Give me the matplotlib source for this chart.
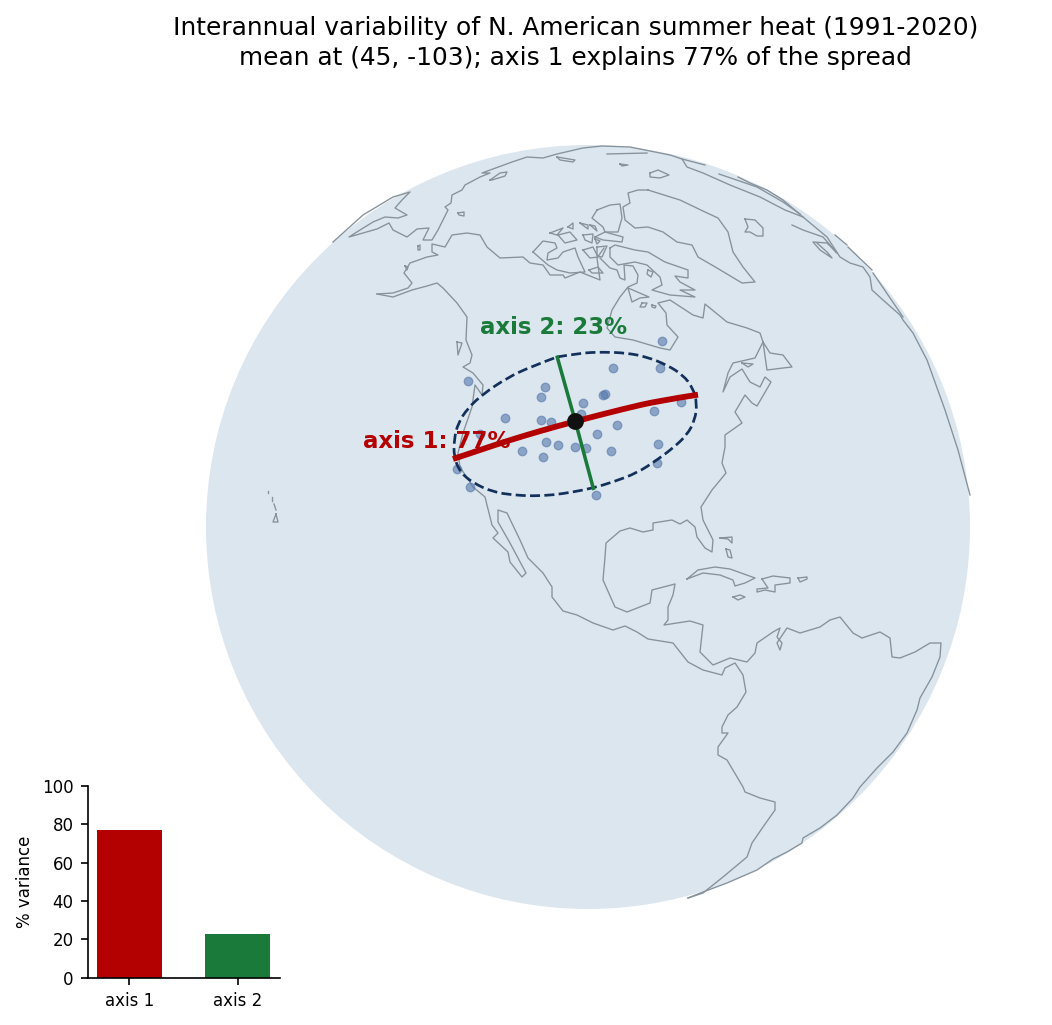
import matplotlib
matplotlib.use("Agg")
import matplotlib.pyplot as plt
from matplotlib.patches import Circle, PathPatch
from matplotlib.path import Path

# everything on the globe is in map-plane units
GLOBE_CENTER = (588, 527)
GLOBE_RADIUS = 382

var_labels = ["axis 1", "axis 2"]
var_values = [77, 23]

year_x = [661.7, 613.3, 660.3, 468.3, 545.3, 541.3, 583.3, 605.3, 603.3, 680.7,
          654.3, 581.3, 505.3, 541.3, 551.3, 617.3, 480.0, 597.3, 546.3, 558.3,
          575.3, 586.3, 522.3, 611.3, 658.3, 543.3, 657.3, 457.3, 470.3, 596.3]
year_y = [341.3, 368.3, 368.3, 381.3, 387.3, 397.3, 403.3, 394.3, 395.3, 401.7,
          411.3, 414.0, 418.3, 420.3, 422.3, 425.3, 433.7, 434.3, 442.3, 445.3,
          447.3, 448.3, 451.3, 451.3, 444.3, 457.3, 463.3, 469.3, 487.3, 495.3]

mean_point = (575.3, 421.3)
axis1_line = [(453, 459), (480, 450), (507, 441), (540, 431), (575.3, 421.3), (623, 409), (660, 400.5), (698, 394.7)]
axis2_line = [(557.3, 357.3), (575.3, 421.3), (593.3, 488.3)]
ellipse_line = [(557, 357), (580, 353), (603, 352), (627, 353), (647, 357), (667, 365), (683, 375),
                (693, 388), (697, 403), (695, 420), (687, 435), (673, 448), (657, 460), (637, 473),
                (613, 482), (593, 488), (573, 492), (553, 495), (533, 496), (513, 495), (493, 492),
                (473, 483), (460, 472), (454, 457), (454, 440), (458, 423), (468, 408), (483, 394),
                (507, 378), (530, 367), (557, 357)]

siberia = [(333, 242), (363, 215), (393, 197), (410, 192), (402, 200), (395, 208), (407, 215), (398, 218),
           (385, 217), (373, 222), (360, 230), (349, 237), (363, 233), (377, 229), (389, 223), (393, 230),
           (407, 237), (417, 229), (429, 228), (423, 240), (432, 240), (438, 230), (448, 210), (445, 207),
           (451, 203), (452, 195), (462, 190), (465, 185), (480, 177), (490, 173), (482, 173), (512, 162),
           (527, 157), (543, 158), (557, 154), (583, 148), (602, 146), (630, 147), (650, 151), (670, 155),
           (682, 159), (705, 165)]
eurasia = [(682, 159), (687, 167), (703, 173), (730, 185), (760, 197), (785, 210), (803, 217)]
novaya = [(719, 174), (757, 187), (783, 202), (800, 214)]
arctic_east = [(738, 177), (750, 183), (767, 190), (783, 200), (803, 217), (827, 237), (840, 257), (850, 263),
               (863, 267), (870, 277), (872, 290), (883, 300), (900, 315), (903, 320), (913, 333), (927, 360),
               (945, 410), (958, 450), (970, 495)]
baltic = [(792, 225), (803, 230), (823, 237), (837, 253), (827, 243), (813, 242), (820, 250), (832, 258),
          (827, 252), (817, 243)]
limb_a = [(835, 235), (847, 245)]
limb_b = [(848, 247), (872, 270)]
limb_c = [(873, 273), (903, 317)]

greenland = [(648, 190), (680, 200), (705, 212), (718, 218), (728, 232), (733, 252), (743, 267), (755, 282),
             (742, 283), (717, 268), (698, 257), (692, 245), (677, 242), (663, 232), (648, 227), (635, 228),
             (625, 220), (623, 207), (630, 203), (628, 193), (638, 190), (648, 190)]
iceland = [(745, 219), (755, 220), (763, 228), (763, 236), (757, 236), (750, 232), (745, 232), (748, 227), (745, 219)]

# north america, alaska peninsula round to the andes
alaska_west = [(377, 294), (393, 293), (408, 288), (412, 283), (404, 273), (410, 263), (427, 257), (438, 255),
               (432, 252), (432, 244), (445, 247), (452, 235), (467, 233), (480, 235), (487, 247), (500, 258),
               (523, 257), (530, 263), (543, 265), (550, 275), (563, 275), (565, 278), (580, 272), (600, 280),
               (597, 258), (604, 248)]
hudson = [(600, 258), (610, 268), (617, 270), (620, 278), (625, 280), (624, 265), (633, 266), (638, 275),
          (637, 283), (628, 287), (620, 297), (612, 310), (607, 328), (615, 337), (633, 340), (660, 348),
          (670, 350), (678, 337), (667, 325), (666, 313), (658, 303), (670, 300), (693, 315), (703, 318),
          (705, 304), (727, 322), (747, 328), (760, 333), (763, 342), (755, 358), (733, 363), (728, 373),
          (723, 392), (730, 377), (742, 369), (750, 382), (760, 387), (765, 377), (771, 382), (757, 406),
          (752, 403), (745, 395), (735, 412), (742, 423), (725, 435), (725, 447), (722, 463), (726, 473),
          (712, 490), (701, 507), (703, 520), (713, 540), (712, 552), (705, 548), (697, 537), (695, 527),
          (687, 520), (680, 524), (672, 520), (653, 523), (653, 530), (643, 532), (630, 528), (620, 531),
          (606, 543), (605, 557), (603, 580), (615, 607), (627, 612), (650, 603), (652, 590), (675, 584),
          (673, 595), (668, 607), (668, 620), (664, 625), (690, 621), (703, 625), (700, 652), (713, 665),
          (730, 658), (747, 662), (755, 653), (757, 643), (773, 632), (780, 628), (777, 637), (782, 643),
          (780, 650), (777, 643), (787, 628), (800, 633), (820, 627), (830, 620), (840, 617), (853, 633),
          (862, 638), (880, 632), (890, 638), (892, 657), (900, 658), (915, 652), (930, 643), (941, 643),
          (940, 657), (932, 677), (920, 698), (917, 710), (907, 733), (893, 752), (877, 768), (860, 787),
          (853, 798), (837, 815), (820, 828), (803, 838), (802, 843), (787, 852), (773, 859), (757, 870),
          (727, 883), (703, 892), (688, 898)]
andes = [(688, 898), (703, 893), (723, 877), (747, 857), (752, 843), (763, 827), (775, 810), (775, 802),
         (760, 798), (745, 792), (743, 787), (727, 760), (718, 755), (718, 747), (728, 733), (722, 733),
         (722, 727), (728, 715), (737, 707), (746, 692), (743, 675), (735, 663), (725, 668), (722, 675),
         (703, 670), (688, 662), (673, 643), (648, 639), (637, 632), (625, 626), (613, 630), (593, 623),
         (577, 615), (563, 611), (552, 597), (552, 587), (543, 573), (528, 558), (520, 540), (507, 513),
         (498, 510), (498, 522), (510, 543), (526, 573), (522, 577), (510, 562), (508, 552), (493, 538),
         (498, 533), (492, 525), (485, 497), (473, 487), (460, 467), (458, 453), (463, 433), (472, 407),
         (475, 385), (482, 395), (483, 385), (473, 373), (463, 367), (470, 363), (472, 355), (466, 340),
         (467, 317), (457, 303), (443, 288), (437, 283), (427, 286), (412, 290), (393, 297), (377, 294)]

newfoundland = [(763, 342), (767, 370), (783, 368), (792, 367), (783, 355), (770, 353), (763, 342)]
anticosti = [(742, 363), (753, 364), (748, 367), (742, 363)]
haida = [(457, 342), (462, 343), (458, 355), (457, 342)]
baffin = [(610, 248), (615, 245), (635, 250), (648, 252), (665, 262), (688, 270), (688, 278), (675, 276),
          (680, 282), (695, 290), (680, 290), (695, 297), (670, 295), (652, 290), (662, 285), (660, 277),
          (647, 265), (635, 262), (618, 265), (610, 257), (610, 248)]
southampton = [(628, 288), (649, 297), (640, 298), (632, 302), (628, 288)]
victoria = [(533, 252), (543, 241), (555, 243), (557, 248), (548, 253), (547, 260), (558, 258), (563, 252),
            (575, 248), (578, 257), (585, 272), (570, 273), (557, 270), (548, 265), (533, 252)]
ellesmere = [(597, 210), (610, 205), (620, 204), (622, 218), (618, 232), (605, 232), (603, 227), (592, 218), (597, 210)]
devon = [(595, 237), (605, 232), (623, 237), (622, 242), (603, 240), (595, 237)]
arctic_small = [
    [(583, 250), (593, 247), (598, 257), (590, 258), (583, 250)],
    [(597, 247), (607, 246), (602, 257), (597, 256), (597, 247)],
    [(589, 270), (598, 267), (603, 273), (592, 273), (589, 270)],
    [(550, 233), (563, 228), (557, 235), (550, 233)],
    [(558, 235), (570, 232), (577, 240), (565, 243), (558, 235)],
    [(568, 227), (573, 223), (573, 229), (568, 227)],
    [(580, 223), (588, 225), (588, 229), (580, 223)],
    [(583, 235), (593, 234), (592, 243), (585, 240), (583, 235)],
    [(595, 239), (600, 241), (597, 244), (595, 239)],
    [(590, 225), (595, 226), (597, 231), (590, 225)],
    [(642, 303), (647, 303), (645, 307), (640, 307), (642, 303)],
    [(652, 305), (656, 306), (655, 308), (652, 307), (652, 305)],
    [(648, 270), (653, 272), (651, 277), (647, 274), (648, 270)],
    [(650, 173), (658, 170), (669, 175), (660, 178), (650, 177), (650, 173)],
    [(620, 164), (628, 165), (622, 166), (620, 164)],
    [(607, 154), (647, 153)],
    [(557, 157), (575, 160), (573, 162), (560, 160), (557, 157)],
    [(490, 180), (500, 173), (507, 172), (505, 176), (492, 180), (490, 180)],
    [(458, 213), (464, 212), (464, 216), (459, 215), (458, 213)],
    [(418, 246), (420, 245), (420, 250), (418, 250), (418, 246)],
    [(405, 266), (408, 267), (407, 270), (405, 266)],
]
caribbean = [
    [(687, 579), (698, 570), (715, 567), (730, 569), (755, 578), (745, 583), (735, 586), (733, 580), (720, 575), (703, 573), (687, 579)],
    [(762, 579), (773, 576), (790, 578), (790, 583), (775, 585), (775, 592), (765, 590), (757, 592), (757, 589), (768, 588), (762, 579)],
    [(798, 578), (807, 577), (807, 579), (800, 582), (798, 578)],
    [(733, 597), (740, 595), (745, 597), (738, 600), (733, 597)],
    [(720, 538), (732, 537), (732, 543), (728, 539), (720, 538)],
    [(726, 549), (730, 550), (732, 558), (728, 557), (726, 549)],
]
hawaii = [(276, 514), (278, 522), (273, 522), (276, 514)]
hawaii_small = [[(268, 491), (268, 493)], [(272, 497), (272, 501)], [(274, 504), (276, 510)]]

coast_lines = [siberia, eurasia, novaya, arctic_east, baltic, limb_a, limb_b, limb_c, greenland, iceland,
               alaska_west, hudson, andes, newfoundland, anticosti, haida, baffin, southampton, victoria,
               ellesmere, devon, hawaii] + arctic_small + caribbean + hawaii_small

RED = "#b30000"
GREEN = "#1a7a3a"
NAVY = "#12305a"
W, H = 1052, 1025


def smooth_path(pts):
    # quadratic beziers through the midpoints, so the traced points do not show as kinks
    verts = [pts[0]]
    codes = [Path.MOVETO]
    for i in range(1, len(pts) - 1):
        mid = ((pts[i][0] + pts[i + 1][0]) / 2, (pts[i][1] + pts[i + 1][1]) / 2)
        if i == len(pts) - 2:
            mid = pts[-1]
        verts += [pts[i], mid]
        codes += [Path.CURVE3, Path.CURVE3]
    return Path(verts, codes)


fig = plt.figure(figsize=(W / 150, H / 150), dpi=150)
ax = fig.add_axes([0, 0, 1, 1])
ax.set_xlim(0, W)
ax.set_ylim(H, 0)
ax.axis("off")

ax.add_patch(Circle(GLOBE_CENTER, GLOBE_RADIUS, fc="#dce6ef", ec="none", zorder=1))
for seg in coast_lines:
    ax.plot([p[0] for p in seg], [p[1] for p in seg], color="#87939c", lw=0.65, zorder=2)

ax.scatter(year_x, year_y, s=17, c="#5577aa", alpha=0.6, edgecolors="#5577aa", linewidths=0.6, zorder=3)
ax.add_patch(PathPatch(smooth_path(ellipse_line), fc="none", ec=NAVY, lw=1.3, ls="--", zorder=4))
ax.plot([p[0] for p in axis2_line], [p[1] for p in axis2_line], color=GREEN, lw=1.7, zorder=5)
ax.add_patch(PathPatch(smooth_path(axis1_line), fc="none", ec=RED, lw=2.8, capstyle="butt", zorder=6))
ax.scatter([mean_point[0]], [mean_point[1]], s=50, c="#111111", zorder=7)

ax.text(436.5, 441, "axis 1: 77%", color=RED, fontsize=11, fontweight="bold", ha="center", va="center", zorder=8)
ax.text(553.5, 327, "axis 2: 23%", color=GREEN, fontsize=11, fontweight="bold", ha="center", va="center", zorder=8)

ax.text(575.5, 43, "Interannual variability of N. American summer heat (1991-2020)\n"
        "mean at (45, -103); axis 1 explains 77% of the spread",
        fontsize=11.95, ha="center", va="center", linespacing=1.3)

# inset bars
inset = fig.add_axes([88.3 / W, (H - 977.7) / H, 191.7 / W, 192 / H])
inset.bar(var_labels, var_values, width=0.6, color=[RED, GREEN])
inset.set_xlim(-0.38, 1.39)
inset.set_ylim(0, 100)
inset.set_ylabel("% variance", fontsize=8, labelpad=4)
inset.tick_params(labelsize=8)
inset.spines["top"].set_visible(False)
inset.spines["right"].set_visible(False)
inset.patch.set_alpha(0)

fig.savefig("out.png", dpi=150)
